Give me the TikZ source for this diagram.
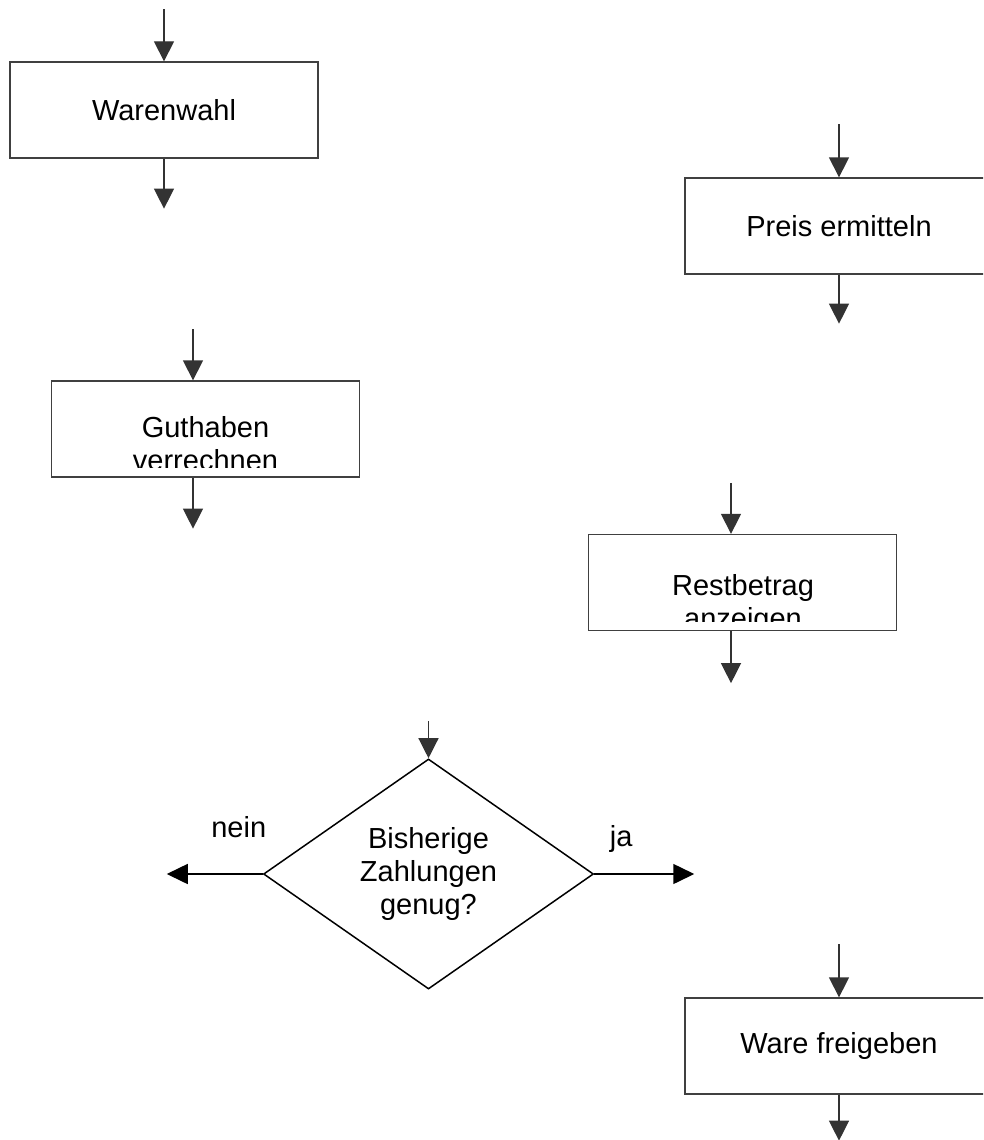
\documentclass[tikz,border=0pt]{standalone}
\usepackage{fontspec}
\setmainfont{Liberation Sans}
\usetikzlibrary{shapes,arrows.meta}
\definecolor{pfeilgrau}{rgb}{0.2,0.2,0.2}
\definecolor{rahmengrau}{rgb}{0.25,0.25,0.25}

\begin{document}
\begin{tikzpicture}[x=1pt, y=-1pt, font=\fontsize{29}{33}\selectfont]
\tikzset{kasten/.style={rectangle, draw=rahmengrau, line width=1.3pt,
                        minimum width=308pt, minimum height=96pt, inner sep=0pt},
         raute/.style={diamond, draw=black, line width=1.5pt, align=center,
                       minimum width=330pt, minimum height=230pt, inner sep=0pt},
         zeilen/.style={align=center, inner sep=0pt},
         pfeil/.style={draw=pfeilgrau, line width=1.3pt,
                       -{Triangle[length=20pt, width=20pt]}},
         janein/.style={draw=black, line width=1.5pt,
                        -{Triangle[length=21pt, width=20pt]}}}

\useasboundingbox (0,0) rectangle (983,1140);
\clip (0,0) rectangle (983,1140);

\node(waren) [kasten] at (164,110) {Warenwahl};

\node(preis) [kasten, below of=waren, node distance=116pt, xshift=675pt]
  {Preis ermitteln};

\node(guthaben) [kasten, below of=waren, node distance=319pt, xshift=41.5pt] {};

\node(rest) [kasten, below of=guthaben, node distance=153.5pt, xshift=537pt] {};

\node(frage) [raute, below of=rest, node distance=291.5pt, xshift=-314pt]
  {Bisherige\\ Zahlungen\\ genug?};

\node(ware) [kasten, below of=frage, node distance=172pt, xshift=410.5pt]
  {Ware freigeben};

% Text der zweizeiligen Kaesten wird unten abgeschnitten
\begin{scope}
  \clip (guthaben.north west) rectangle ([yshift=10pt]guthaben.south east);
  \node(guthaben-text) [zeilen, yshift=-14.5pt] at (guthaben)
    {Guthaben\\ verrechnen};
\end{scope}
\begin{scope}
  \clip (rest.north west) rectangle ([yshift=10pt]rest.south east);
  \node(rest-text) [zeilen, xshift=0.5pt, yshift=-21.5pt] at (rest)
    {Restbetrag\\ anzeigen};
\end{scope}

\node(nein) [anchor=base, xshift=-24pt, yshift=37pt] at (frage.west) {nein};
\node(ja) [anchor=base, xshift=27pt, yshift=28pt] at (frage.east) {ja};

% freie Pfeilenden
\coordinate (waren-oben) at ([yshift=52pt]waren.north);
\coordinate (waren-unten) at ([yshift=-50pt]waren.south);
\coordinate (preis-oben) at ([yshift=53pt]preis.north);
\coordinate (preis-unten) at ([yshift=-49pt]preis.south);
\coordinate (guthaben-oben) at ([xshift=-12.5pt, yshift=51pt]guthaben.north);
\coordinate (guthaben-unten) at ([xshift=-12.5pt, yshift=-51pt]guthaben.south);
\coordinate (rest-oben) at ([xshift=-11.5pt, yshift=51pt]rest.north);
\coordinate (rest-unten) at ([xshift=-11.5pt, yshift=-52pt]rest.south);
\coordinate (frage-oben) at ([yshift=37pt]frage.north);
\coordinate (nein-ende) at ([xshift=-96pt]frage.west);
\coordinate (ja-ende) at ([xshift=100pt]frage.east);
\coordinate (ware-oben) at ([yshift=53pt]ware.north);
\coordinate (ware-unten) at ([yshift=-46pt]ware.south);

\draw[pfeil] (waren-oben) -- (waren);
\draw[pfeil] (waren) -- (waren-unten);
\draw[pfeil] (preis-oben) -- (preis);
\draw[pfeil] (preis) -- (preis-unten);
\draw[pfeil] (guthaben-oben) -- (guthaben-oben |- guthaben.north);
\draw[pfeil] (guthaben-unten |- guthaben.south) -- (guthaben-unten);
\draw[pfeil] (rest-oben) -- (rest-oben |- rest.north);
\draw[pfeil] (rest-unten |- rest.south) -- (rest-unten);
\draw[pfeil] (frage-oben) -- (frage);
\draw[janein] (frage) -- (nein-ende);
\draw[janein] (frage) -- (ja-ende);
\draw[pfeil] (ware-oben) -- (ware);
\draw[pfeil] (ware) -- (ware-unten);

\end{tikzpicture}
\end{document}
